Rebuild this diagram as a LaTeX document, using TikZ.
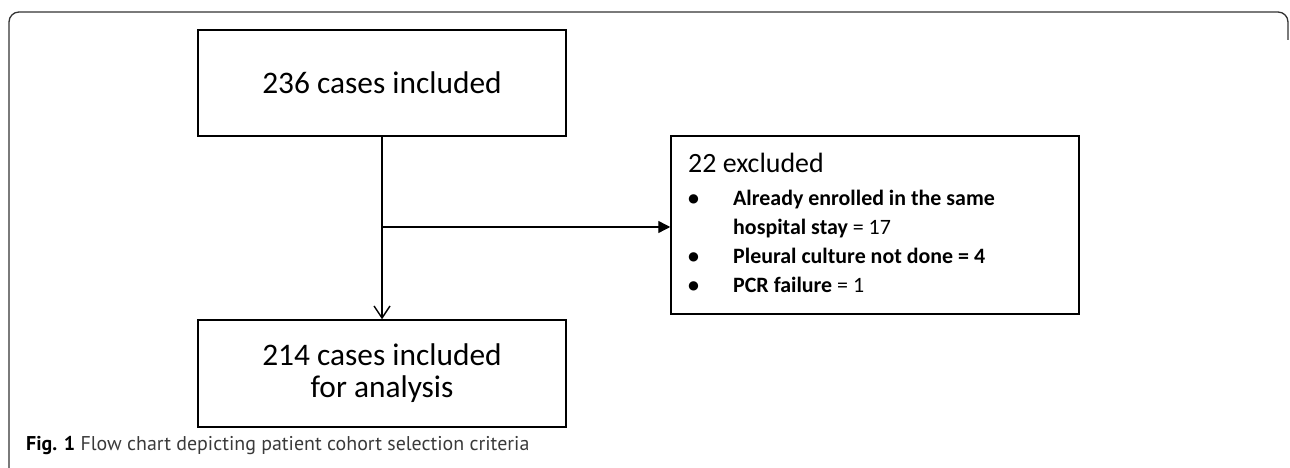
\documentclass[tikz,border=0pt]{standalone}
\usepackage{fontspec}
\setmainfont{Carlito}
\newfontfamily\capfont{PT Sans}
\usetikzlibrary{arrows.meta}
\definecolor{frame}{HTML}{333333}
\definecolor{captxt}{HTML}{3A3A3A}
\tikzset{
  flowbox/.style={draw=black, line width=1.5bp, minimum width=368bp, inner sep=0pt, align=center, font=\fontsize{31.5}{32}\selectfont},
  conn/.style={draw=black, line width=1.4bp},
}
\begin{document}
\begin{tikzpicture}[x=1bp,y=-1bp]
\useasboundingbox (0,0) rectangle (1290,468);
\clip (0,0) rectangle (1290,468);
% outer frame
\draw[frame, line width=1.3bp, rounded corners=10bp] (9,480) -- (9,12) -- (1288,12) -- (1288,40);
% boxes
\node[flowbox, minimum height=106bp] (b1) at (382,83) {236 cases included};
\node[flowbox, minimum height=107bp] (b3) at (382,373.5) {214 cases included\\for analysis};
\node[draw=black, line width=1.5bp, minimum width=408bp, minimum height=178bp, inner sep=0pt] (b2) at (875,225) {};
% box 2 text
\node[anchor=base west, inner sep=0pt, font=\fontsize{28}{30}\selectfont] (t0) at (688,173) {22 excluded};
\node[anchor=base west, inner sep=0pt, align=left, font=\bfseries\fontsize{22}{29.3}\selectfont] (t1) at (688,293)
  {\makebox[45bp][l]{\textbullet}Already enrolled in the same\\
   \makebox[45bp][l]{}hospital stay {\mdseries= 17}\\
   \makebox[45bp][l]{\textbullet}Pleural culture not done = 4\\
   \makebox[45bp][l]{\textbullet}PCR failure {\mdseries= 1}};
% connectors
\coordinate (j) at (382,227);
\draw[conn, -{Straight Barb[length=12bp,width=16bp,line width=1.4bp]}] (b1.south) -- (b3.north);
\draw[conn, -{Triangle[length=12bp,width=12bp]}] (j) -- (j -| b2.west);
% caption
\node[anchor=base west, inner sep=0pt, font=\capfont\fontsize{20}{24}\selectfont, text=captxt] (cap) at (26,451)
  {\textcolor{black}{\bfseries Fig. 1} Flow chart depicting patient cohort selection criteria};
\end{tikzpicture}
\end{document}
